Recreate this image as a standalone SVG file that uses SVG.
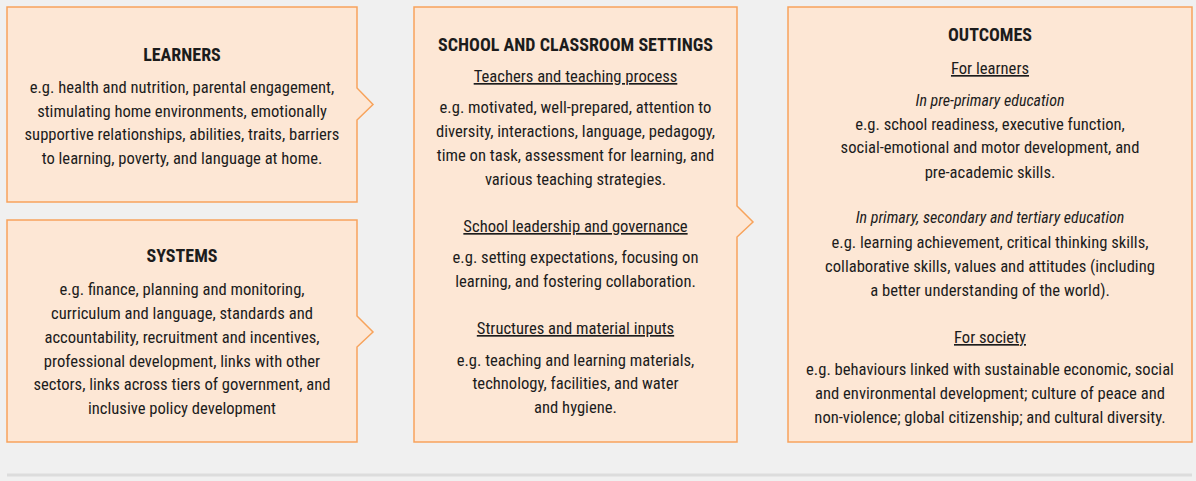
<svg xmlns="http://www.w3.org/2000/svg" width="1196" height="481" viewBox="0 0 1196 481">
<style>
.bg{fill:#f0f0f0}
.box{fill:#fde7d5;stroke:#f7a35c;stroke-width:1.5}
text{font-family:"Liberation Sans Narrow","Roboto Condensed","Liberation Sans",sans-serif;font-size:16.6px;fill:#1c1c1c;text-anchor:middle}
.t{font-weight:bold;font-size:18px}
.u{text-decoration:underline}
.i{font-style:italic;font-size:16px}
.rule{stroke:#dcdcdc;stroke-width:3}
</style>
<rect class="bg" x="0" y="0" width="1196" height="481"/>
<g id="connectors">
<line class="rule" x1="7" y1="475" x2="1192" y2="475"/>
</g>
<g id="learners">
<path class="box" d="M7,7 H357 V88 L373,104.5 L357,120 V202 H7 Z"/>
<text class="t" x="182" y="61">LEARNERS</text>
<text x="182" y="93">e.g. health and nutrition, parental engagement,</text>
<text x="182" y="117">stimulating home environments, emotionally</text>
<text x="182" y="140">supportive relationships, abilities, traits, barriers</text>
<text x="182" y="164">to learning, poverty, and language at home.</text>
</g>
<g id="systems">
<path class="box" d="M7,220 H357 V316 L373,332 L357,347 V442 H7 Z"/>
<text class="t" x="182" y="262">SYSTEMS</text>
<text x="182" y="295">e.g. finance, planning and monitoring,</text>
<text x="182" y="319">curriculum and language, standards and</text>
<text x="182" y="343">accountability, recruitment and incentives,</text>
<text x="182" y="367">professional development, links with other</text>
<text x="182" y="390">sectors, links across tiers of government, and</text>
<text x="182" y="414">inclusive policy development</text>
</g>
<g id="school">
<path class="box" d="M414,7 H737 V206 L753,222 L737,237 V442 H414 Z"/>
<text class="t" x="575.5" y="51">SCHOOL AND CLASSROOM SETTINGS</text>
<text class="u" x="575.5" y="82">Teachers and teaching process</text>
<text x="575.5" y="113">e.g. motivated, well-prepared, attention to</text>
<text x="575.5" y="137">diversity, interactions, language, pedagogy,</text>
<text x="575.5" y="161">time on task, assessment for learning, and</text>
<text x="575.5" y="185">various teaching strategies.</text>
<text class="u" x="575.5" y="232">School leadership and governance</text>
<text x="575.5" y="263">e.g. setting expectations, focusing on</text>
<text x="575.5" y="287">learning, and fostering collaboration.</text>
<text class="u" x="575.5" y="334">Structures and material inputs</text>
<text x="575.5" y="366">e.g. teaching and learning materials,</text>
<text x="575.5" y="389">technology, facilities, and water</text>
<text x="575.5" y="413">and hygiene.</text>
</g>
<g id="outcomes">
<rect class="box" x="788" y="7" width="404" height="435"/>
<text class="t" x="990" y="41">OUTCOMES</text>
<text class="u" x="990" y="74">For learners</text>
<text class="i" x="990" y="106">In pre-primary education</text>
<text x="990" y="130">e.g. school readiness, executive function,</text>
<text x="990" y="153">social-emotional and motor development, and</text>
<text x="990" y="178">pre-academic skills.</text>
<text class="i" x="990" y="223">In primary, secondary and tertiary education</text>
<text x="990" y="248">e.g. learning achievement, critical thinking skills,</text>
<text x="990" y="272">collaborative skills, values and attitudes (including</text>
<text x="990" y="296">a better understanding of the world).</text>
<text class="u" x="990" y="343">For society</text>
<text x="990" y="375">e.g. behaviours linked with sustainable economic, social</text>
<text x="990" y="399">and environmental development; culture of peace and</text>
<text x="990" y="423">non-violence; global citizenship; and cultural diversity.</text>
</g>
</svg>
